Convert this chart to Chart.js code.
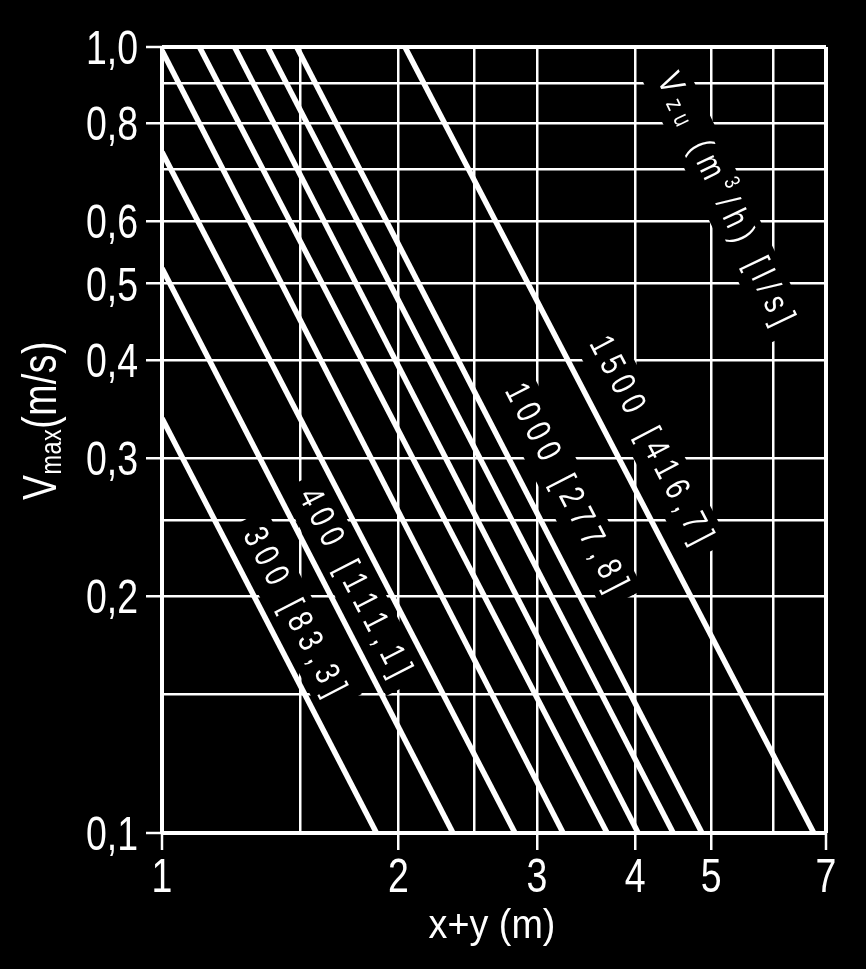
<!DOCTYPE html>
<html>
<head>
<meta charset="utf-8">
<script src="https://cdn.jsdelivr.net/npm/chart.js@4.4.1/dist/chart.umd.min.js"></script>
<style>
    body { margin: 0; background: #000; }
    #wrap { width: 866px; height: 969px; position: relative; }
</style>
</head>
<body>
<div id="wrap"><canvas id="flowChart"></canvas></div>
<script>
// supply air flows, one straight line each on the log-log sheet
const flowRates = ['300', '400', '500', '600', '700', '800', '900', '1000', '1500'];
const startX = [1, 1, 1, 1, 1.116, 1.237, 1.363, 1.484, 2.038];
const startV = [0.337, 0.523, 0.735, 0.99, 1.0, 1.0, 1.0, 1.0, 1.0];
const endX = [1.875, 2.346, 2.814, 3.24, 3.686, 4.037, 4.474, 4.867, 6.754];
const endV = [0.1, 0.1, 0.1, 0.1, 0.1, 0.1, 0.1, 0.1, 0.1];

const xGrid = [1, 1.5, 2, 2.5, 3, 4, 5, 6, 7];
const xTicks = [1, 2, 3, 4, 5, 7];
const yGrid = [0.1, 0.15, 0.2, 0.25, 0.3, 0.4, 0.5, 0.6, 0.7, 0.8, 0.9, 1.0];
const yTicks = [0.1, 0.2, 0.3, 0.4, 0.5, 0.6, 0.8, 1.0];
const yTickLabels = ['0,1', '0,2', '0,3', '0,4', '0,5', '0,6', '0,8', '1,0'];

const FONT = '"Liberation Sans", Arial, sans-serif';
const SQUEEZE = 0.78;   // the sheet uses a condensed face

// where the rotated captions sit (data units), which line they follow
const lineLabels = [
    { line: 0, x: 1.47, y: 0.191, runs: [{ t: '300 [83,3]' }] },
    { line: 1, x: 1.755, y: 0.208, runs: [{ t: '400 [111,1]' }] },
    { line: 7, x: 3.26, y: 0.275, runs: [{ t: '1000 [277,8]' }] },
    { line: 8, x: 4.18, y: 0.316, runs: [{ t: '1500 [416,7]' }] },
    { line: null, angle: 64.5, x: 5.2, y: 0.64, runs: [
        { t: 'V' }, { t: 'zu', size: 25, dy: 5 }, { t: ' (m' },
        { t: '3', size: 22, dy: -13 }, { t: '/h) [l/s]' }
    ] }
];

const datasets = flowRates.map((q, i) => ({
    label: q,
    data: [{ x: startX[i], y: startV[i] }, { x: endX[i], y: endV[i] }],
    borderColor: '#fff',
    borderWidth: 5.5,
    pointRadius: 0,
    tension: 0,
    fill: false
}));

// width of a run list in unsqueezed units
function runWidth(ctx, runs, spacing, base) {
    let w = 0;
    runs.forEach(r => {
        ctx.font = `${r.size || base}px ${FONT}`;
        for (const ch of r.t) w += ctx.measureText(ch).width * SQUEEZE + spacing;
    });
    return w - spacing;
}

// draws condensed runs starting at x, baseline at y (already in rotated frame)
function drawRuns(ctx, runs, spacing, base, x, y) {
    runs.forEach(r => {
        ctx.font = `${r.size || base}px ${FONT}`;
        for (const ch of r.t) {
            ctx.save();
            ctx.translate(x, y + (r.dy || 0));
            ctx.scale(SQUEEZE, 1);
            ctx.fillText(ch, 0, 0);
            ctx.restore();
            x += ctx.measureText(ch).width * SQUEEZE + spacing;
        }
    });
    return x;
}

function squeezedText(ctx, text, x, y, size, align) {
    ctx.font = `${size}px ${FONT}`;
    const w = ctx.measureText(text).width * SQUEEZE;
    let left = x;
    if (align === 'right') left = x - w;
    if (align === 'center') left = x - w / 2;
    ctx.save();
    ctx.translate(left, y);
    ctx.scale(SQUEEZE, 1);
    ctx.textAlign = 'left';
    ctx.fillText(text, 0, 0);
    ctx.restore();
}

const captionPlugin = {
    id: 'captions',
    beforeDatasetsDraw(chart) {
        const { ctx, scales } = chart;
        const sx = scales.x, sy = scales.y;
        ctx.save();
        ctx.textBaseline = 'middle';
        ctx.textAlign = 'left';
        lineLabels.forEach(lab => {
            let ang;
            if (lab.line !== null) {
                const i = lab.line;
                const dx = sx.getPixelForValue(endX[i]) - sx.getPixelForValue(startX[i]);
                const dy = sy.getPixelForValue(endV[i]) - sy.getPixelForValue(startV[i]);
                ang = Math.atan2(dy, dx);
            } else {
                ang = lab.angle * Math.PI / 180;
            }
            const px = sx.getPixelForValue(lab.x);
            const py = sy.getPixelForValue(lab.y);
            const spacing = 7;
            const w = runWidth(ctx, lab.runs, spacing, 35);
            ctx.save();
            ctx.translate(px, py);
            ctx.rotate(ang);
            ctx.fillStyle = '#000';
            ctx.fillRect(-w / 2 - 12, -23, w + 24, 46);
            ctx.fillStyle = '#fff';
            drawRuns(ctx, lab.runs, spacing, 35, -w / 2, 0);
            ctx.restore();
        });
        ctx.restore();
    },
    afterDraw(chart) {
        const { ctx, scales } = chart;
        const sx = scales.x, sy = scales.y;
        ctx.save();
        ctx.fillStyle = '#fff';
        ctx.textBaseline = 'alphabetic';

        // tick labels
        yTicks.forEach((v, k) => {
            squeezedText(ctx, yTickLabels[k], 138, sy.getPixelForValue(v) + 17, 48, 'right');
        });
        xTicks.forEach(v => {
            squeezedText(ctx, String(v), sx.getPixelForValue(v), 892, 48, 'center');
        });

        // x axis title
        ctx.font = `41px ${FONT}`;
        ctx.textAlign = 'center';
        ctx.save();
        ctx.translate(492, 938);
        ctx.scale(0.92, 1);
        ctx.fillText('x+y (m)', 0, 0);
        ctx.restore();

        // y axis title with subscript
        ctx.translate(56, 500);
        ctx.rotate(-Math.PI / 2);
        ctx.textAlign = 'left';
        drawRuns(ctx, [{ t: 'V' }, { t: 'max', size: 30, dy: 5 }, { t: '(m/s)' }], 0.5, 48, 0, 0);
        ctx.restore();
    }
};

new Chart(document.getElementById('flowChart'), {
    type: 'line',
    data: { datasets: datasets },
    options: {
        responsive: true,
        maintainAspectRatio: false,
        devicePixelRatio: 1,
        animation: false,
        layout: { padding: { top: 47, right: 40, left: 0, bottom: 0 } },
        plugins: {
            legend: { display: false },
            tooltip: { enabled: false }
        },
        scales: {
            x: {
                type: 'logarithmic',
                min: 1,
                max: 7,
                afterBuildTicks: scale => { scale.ticks = xGrid.map(v => ({ value: v })); },
                afterFit: scale => { scale.height = 136; },
                border: { display: false },
                grid: {
                    color: '#fff',
                    lineWidth: c => (c.tick && (c.tick.value === 1 || c.tick.value === 7)) ? 4 : 2.5,
                    tickColor: c => (c.tick && xTicks.includes(c.tick.value)) ? '#fff' : 'rgba(0,0,0,0)',
                    tickWidth: 2.5,
                    tickLength: 17
                },
                ticks: {
                    autoSkip: false,
                    maxRotation: 0,
                    callback: () => ''
                }
            },
            y: {
                type: 'logarithmic',
                min: 0.1,
                max: 1.0,
                afterBuildTicks: scale => { scale.ticks = yGrid.map(v => ({ value: v })); },
                afterFit: scale => { scale.width = 162; },
                border: { display: false },
                grid: {
                    color: '#fff',
                    lineWidth: c => (c.tick && (c.tick.value === 0.1 || c.tick.value === 1.0)) ? 4 : 2.5,
                    tickColor: c => (c.tick && yTicks.includes(c.tick.value)) ? '#fff' : 'rgba(0,0,0,0)',
                    tickWidth: 2.5,
                    tickLength: 16
                },
                ticks: {
                    autoSkip: false,
                    callback: () => ''
                }
            }
        }
    },
    plugins: [captionPlugin]
});
</script>
</body>
</html>
